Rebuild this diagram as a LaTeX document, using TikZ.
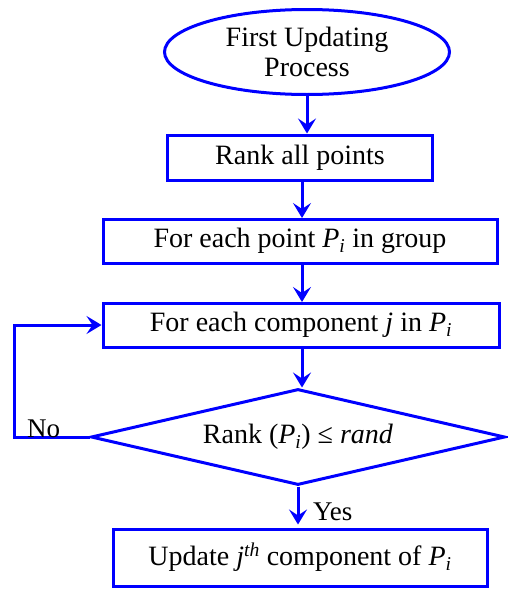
\documentclass[tikz,border=0pt]{standalone}
\usepackage{fontspec}
\setmainfont{Liberation Serif}
\usetikzlibrary{shapes.geometric,arrows.meta}
\definecolor{flowblue}{RGB}{0,0,255}
\begin{document}
\begin{tikzpicture}[x=1pt,y=-1pt,
  every node/.style={font=\fontsize{28}{30}\selectfont, text=black},
  flowline/.style={draw=flowblue, line width=3pt},
  procbox/.style={flowline, rectangle, inner sep=0pt},
  startoval/.style={flowline, ellipse, inner sep=0pt, align=center,
    minimum width=285pt, minimum height=85pt},
  testbox/.style={flowline, diamond, inner sep=0pt, aspect=4.25,
    minimum width=414pt, minimum height=96pt},
  arr/.style={draw=flowblue, line width=3pt,
    -{Stealth[length=15pt,width=18pt,inset=6pt]}},
  lbl/.style={font=\fontsize{27}{29}\selectfont, inner sep=0pt}]
  \useasboundingbox (0,0) rectangle (507,589);

  % flowchart boxes
  \node[startoval] (start) at (307,52) {First Updating\\Process};
  \node[procbox, minimum width=265pt, minimum height=45pt] (rank) at (300,157.5) {Rank all points};
  \node[procbox, minimum width=394pt, minimum height=44pt] (point) at (300,241) {For each point \textit{P}\textsubscript{\textit{i}} in group};
  \node[procbox, minimum width=396pt, minimum height=44pt] (comp) at (301,325) {For each component \textit{j} in \textit{P}\textsubscript{\textit{i}}};
  \node[testbox] (test) at (298,437) {Rank (\textit{P}\textsubscript{\textit{i}}) ≤ \textit{rand}};
  \node[procbox, minimum width=374pt, minimum height=57pt] (upd) at (300,557.5) {Update \textit{j}\textsuperscript{\textit{th}} component of \textit{P}\textsubscript{\textit{i}}};

  % connectors
  \draw[arr] (start.south) -- (start.south |- rank.north);
  \draw[arr] (302,181) -- (302,218);
  \draw[arr] (302,264) -- (302,302);
  \draw[arr] (302,348) -- (test.north -| 302,0);
  \draw[arr] (test.south) -- ++(0,38);
  \draw[arr] (test.west) -- ++(-75,0) coordinate (loop) |- (comp.west);

  % branch labels
  \node[lbl, anchor=west] (yes) at (313,512) {Yes};
  \node[lbl, anchor=base west] (no) at (27,437) {No};
\end{tikzpicture}
\end{document}
